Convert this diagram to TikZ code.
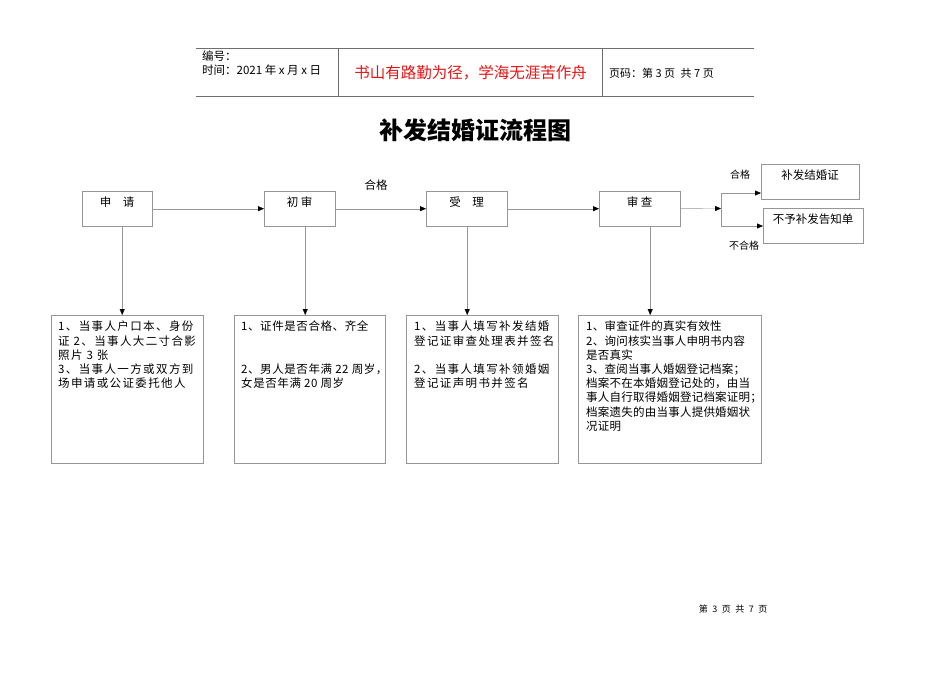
\documentclass[tikz,border=0pt]{standalone}
\usepackage{fontspec}
\setmainfont{Noto Sans CJK SC}
\usetikzlibrary{positioning,arrows.meta}

\definecolor{boxgray}{RGB}{150,150,150}
\definecolor{hdrgray}{RGB}{110,110,110}
\definecolor{mottored}{RGB}{228,20,20}

\begin{document}
\begin{tikzpicture}[x=1pt, y=-1pt
        , every node/.style={ inner sep=0pt, font=\fontsize{11.5}{14.2}\selectfont }
        , flow/.style={ draw=boxgray, anchor=north west, minimum height=35pt, text height=9pt, text depth=13pt }
        , note/.style={ draw=boxgray, anchor=north west, minimum height=148pt }
        , notetext/.style={ anchor=north west, align=left }
        , wide/.style={ font=\fontsize{11.5}{14.2}\selectfont\addfontfeatures{LetterSpace=#1} }
        , small/.style={ font=\fontsize{10}{12}\selectfont }
        , arr/.style={ draw=boxgray, -{Triangle[length=6pt,width=5pt,color=black]} }
        ]
        \useasboundingbox (0,0) rectangle (950,672);

        % page header
        \draw[hdrgray] (196,48) -- (754,48)
                       (196,96) -- (754,96)
                       (338,48) -- (338,96)
                       (602,48) -- (602,96);
        \node[anchor=west, font=\fontsize{11.5}{13}\selectfont] (num) at (202,56) {编号：};
        \node[anchor=west, font=\fontsize{11.5}{13}\selectfont] (date) at (202,70) {时间：2021 年 x 月 x 日};
        \node[text=mottored, font=\fontsize{15.5}{18}\selectfont] (motto) at (470.5,73) {书山有路勤为径，学海无涯苦作舟};
        \node[anchor=west, font=\fontsize{11}{13}\selectfont] (pageno) at (609,73) {页码：第 3 页\enspace 共 7 页};

        \node[font=\fontsize{24}{28}\selectfont\bfseries] (title) at (475.5,130) {补发结婚证流程图};

        % main steps
        \node[flow, minimum width=70pt] (shen) at (82,191) {申\quad 请};
        \node[flow, minimum width=71pt] (chu)  at (264,191) {初\ 审};
        \node[flow, minimum width=81pt] (shou) at (426,191) {受\quad 理};
        \node[flow, minimum width=81pt] (cha)  at (599,191) {审\ 查};

        % outcomes
        \node[flow, minimum width=98pt]  (ok) at (761,164) {补发结婚证};
        \node[flow, minimum width=100pt] (no) at (763,208) {不予补发告知单};

        \draw[arr] (shen) -- (chu);
        \draw[arr] (chu) -- (shou);
        \node (hg) at (376,185) {合格};
        \draw[arr] (shou) -- (cha);

        \coordinate (fork) at (721,208.5);
        \coordinate (forkT) at (721,193);
        \coordinate (forkB) at (721,226);
        \draw[arr] (cha) -- (fork);
        \draw[boxgray] (forkT) -- (forkB);
        \draw[arr] (forkT) -- (forkT -| ok.west);
        \draw[arr] (forkB) -- (forkB -| no.west);
        \node[small] (okl) at (740,175) {合格};
        \node[small] (nol) at (744,246) {不合格};

        % what each step checks
        \node[note, minimum width=152pt] (d1) at (51,315) {};
        \node[note, minimum width=151pt] (d2) at (234,315) {};
        \node[note, minimum width=152pt] (d3) at (406,315) {};
        \node[note, minimum width=183pt] (d4) at (578,315) {};

        \node[notetext, wide=12] (t1) at (58,321) {1、当事人户口本、身份\\证\ 2、当事人大二寸合影\\照片 3 张\\3、当事人一方或双方到\\场申请或公证委托他人};
        \node[notetext, wide=5] (t2) at (241,321) {1、证件是否合格、齐全\\[28.4pt]2、男人是否年满 22 周岁，\\女是否年满 20 周岁};
        \node[notetext, wide=12] (t3) at (414,321) {1、当事人填写补发结婚\\登记证审查处理表并签名\\[14.2pt]2、当事人填写补领婚姻\\登记证声明书并签名};
        \node[notetext, wide=2] (t4) at (586,321) {1、审查证件的真实有效性\\2、询问核实当事人申明书内容\\是否真实\\3、查阅当事人婚姻登记档案；\\档案不在本婚姻登记处的，由当\\事人自行取得婚姻登记档案证明；\\档案遗失的由当事人提供婚姻状\\况证明};

        \foreach \a/\b/\s in {shen/d1/5, chu/d2/5.5, shou/d3/0.5, cha/d4/10.5}
            \draw[arr] ([xshift=\s]\a.south) -- ([xshift=\s]\a.south |- \b.north);

        % footer
        \node[font=\fontsize{9}{11}\selectfont] (foot) at (733,609) {第\enspace 3\enspace 页\enspace 共\enspace 7\enspace 页};
\end{tikzpicture}
\end{document}
